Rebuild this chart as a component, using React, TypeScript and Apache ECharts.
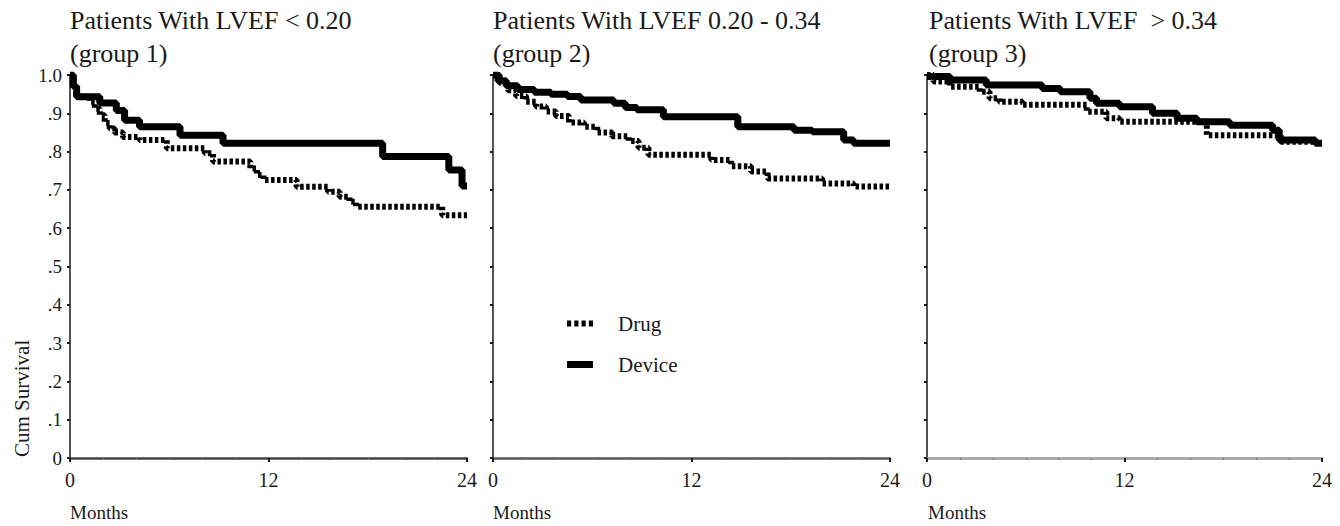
import React, { useEffect, useRef } from "react";
import * as echarts from "echarts";

// ---- data (months, cumulative survival) ----
const monthTicks = [0, 12, 24];
const yTickLabels = ["0", ".1", ".2", ".3", ".4", ".5", ".6", ".7", ".8", ".9", "1.0"];
const seriesNames = ["Drug", "Device"];

const titlesLine1 = ["Patients With LVEF < 0.20", "Patients With LVEF 0.20 - 0.34", "Patients With LVEF  > 0.34"];
const titlesLine2 = ["(group 1)", "(group 2)", "(group 3)"];

const g1Device = [
  [0, 1.0], [0.2, 0.97], [0.4, 0.943], [1.8, 0.927], [2.8, 0.907], [3.3, 0.882],
  [4.2, 0.865], [6.65, 0.843], [9.25, 0.822], [18.9, 0.787], [22.9, 0.752], [23.7, 0.71], [24, 0.71],
];
const g1Drug = [
  [0, 1.0], [0.2, 0.97], [0.4, 0.943], [1.2, 0.93], [1.5, 0.912], [1.8, 0.895], [2.1, 0.875],
  [2.4, 0.86], [2.7, 0.85], [3.2, 0.838], [4.2, 0.83], [5.85, 0.809], [8.15, 0.796], [8.65, 0.774],
  [10.9, 0.756], [11.3, 0.739], [11.7, 0.726], [13.7, 0.708], [15.6, 0.695], [16.3, 0.682],
  [16.9, 0.669], [17.3, 0.656], [22.5, 0.634], [24, 0.634],
];
const g2Device = [
  [0, 1.0], [0.3, 0.985], [0.8, 0.972], [1.5, 0.962], [2.5, 0.955], [3.5, 0.95], [4.5, 0.944],
  [5.3, 0.935], [7.3, 0.926], [8.0, 0.915], [8.7, 0.909], [10.3, 0.891], [14.8, 0.865],
  [18.2, 0.856], [19.3, 0.852], [21.2, 0.83], [21.8, 0.822], [24, 0.822],
];
const g2Drug = [
  [0, 1.0], [0.4, 0.98], [0.9, 0.96], [1.4, 0.945], [2.0, 0.93], [2.6, 0.918], [3.2, 0.905],
  [3.8, 0.893], [4.6, 0.876], [5.5, 0.865], [6.3, 0.85], [7.2, 0.84], [8.2, 0.828], [8.8, 0.81],
  [9.4, 0.792], [13.2, 0.778], [14.4, 0.762], [15.6, 0.748], [16.6, 0.73], [19.9, 0.717],
  [21.8, 0.709], [24, 0.709],
];
const g3Device = [
  [0, 0.996], [1.4, 0.987], [3.6, 0.974], [7.0, 0.965], [8.1, 0.956], [9.9, 0.939], [10.3, 0.926],
  [11.7, 0.917], [13.7, 0.9], [15.2, 0.887], [16.4, 0.878], [18.4, 0.869], [21.0, 0.856],
  [21.4, 0.83], [23.6, 0.822], [24, 0.822],
];
const g3Drug = [
  [0, 1.0], [0.4, 0.983], [1.4, 0.969], [3.2, 0.956], [3.8, 0.939], [4.4, 0.93], [5.8, 0.922],
  [9.7, 0.904], [10.9, 0.887], [11.7, 0.878], [17.0, 0.843], [21.5, 0.826], [23.6, 0.822], [24, 0.822],
];

const drugData = [g1Drug, g2Drug, g3Drug];
const deviceData = [g1Device, g2Device, g3Device];

const FONT = "'Liberation Serif', 'Times New Roman', serif";
const INK = "#1a1a1a";

export default function App() {
  const ref = useRef<HTMLDivElement>(null);

  useEffect(() => {
    if (!ref.current) return;
    const chart = echarts.init(ref.current, null, { renderer: "svg" });

    const gridLefts = [70, 493, 927];
    const gridWidths = [397, 397, 395];
    const xAxisColors = ["#444", "#555", "#aaa"];

    const grids = gridLefts.map((l, i) => ({ left: l, width: gridWidths[i], top: 75, height: 383 }));

    const xAxes = gridLefts.map((_, i) => ({
      type: "value",
      gridIndex: i,
      min: 0,
      max: 24,
      interval: 12,
      axisLine: { show: true, onZero: false, lineStyle: { color: xAxisColors[i], width: i === 2 ? 3 : 2.5 } },
      axisTick: { show: true, length: 4, lineStyle: { color: INK, width: 2 } },
      minorTick: { show: true, splitNumber: 6, length: 2, lineStyle: { color: "#777", width: 1 } },
      splitLine: { show: false },
      axisLabel: {
        show: true,
        margin: 12,
        fontSize: 20,
        fontFamily: FONT,
        color: INK,
        formatter: (v: number) => (monthTicks.includes(v) ? String(v) : ""),
      },
    }));

    const yAxes = gridLefts.map((_, i) => ({
      type: "value",
      gridIndex: i,
      min: 0,
      max: 1,
      interval: 0.1,
      axisLine: { show: true, lineStyle: { color: INK, width: 1.5 } },
      axisTick: { show: true, length: 3, lineStyle: { color: INK, width: 2 } },
      splitLine: { show: false },
      axisLabel: {
        show: i === 0,
        margin: 8,
        fontSize: 19,
        fontFamily: FONT,
        color: INK,
        formatter: (v: number) => yTickLabels[Math.round(v * 10)],
      },
    }));

    const series: any[] = [];
    for (let i = 0; i < 3; i++) {
      series.push({
        name: seriesNames[0],
        type: "line",
        xAxisIndex: i,
        yAxisIndex: i,
        step: "end",
        symbol: "none",
        showSymbol: false,
        data: drugData[i],
        lineStyle: { color: "#000", width: 6, type: [3.5, 2.5], cap: "butt" },
        itemStyle: { color: "#000" },
        z: 3,
      });
      series.push({
        name: seriesNames[1],
        type: "line",
        xAxisIndex: i,
        yAxisIndex: i,
        step: "end",
        symbol: "none",
        showSymbol: false,
        data: deviceData[i],
        lineStyle: { color: "#000", width: 7, cap: "butt" },
        itemStyle: { color: "#000" },
        z: 2,
      });
    }

    const titleX = [70, 493, 929];
    const monthsX = [70, 493, 928];
    const graphics: any[] = [];
    titleX.forEach((x, i) => {
      graphics.push({
        type: "text",
        x,
        y: 20,
        style: { text: titlesLine1[i], font: `26px ${FONT}`, fill: INK, textAlign: "left", textVerticalAlign: "middle" },
      });
      graphics.push({
        type: "text",
        x,
        y: 53,
        style: { text: titlesLine2[i], font: `26px ${FONT}`, fill: INK, textAlign: "left", textVerticalAlign: "middle" },
      });
    });
    monthsX.forEach((x) => {
      graphics.push({
        type: "text",
        x,
        y: 512,
        style: { text: "Months", font: `19px ${FONT}`, fill: INK, textAlign: "left", textVerticalAlign: "middle" },
      });
    });
    graphics.push({
      type: "text",
      x: 22,
      y: 457,
      rotation: Math.PI / 2,
      style: { text: "Cum Survival", font: `21px ${FONT}`, fill: INK, textAlign: "left", textVerticalAlign: "middle" },
    });

    chart.setOption({
      animation: false,
      backgroundColor: "#fff",
      grid: grids,
      xAxis: xAxes,
      yAxis: yAxes,
      series,
      legend: {
        data: [
          { name: seriesNames[0], icon: "path://M0,0h4v6h-4z M7,0h4v6h-4z M14,0h4v6h-4z M21,0h4v6h-4z" },
          { name: seriesNames[1], icon: "rect" },
        ],
        orient: "vertical",
        left: 562,
        top: 308,
        itemGap: 20,
        itemWidth: 26,
        itemHeight: 7,
        textStyle: { fontSize: 21, fontFamily: FONT, color: INK, padding: [0, 0, 0, 20] },
      },
      graphic: graphics,
    });

    return () => chart.dispose();
  }, []);

  return (
    <div
      ref={ref}
      style={{ position: "fixed", left: 0, top: 0, width: 1340, height: 526, background: "#fff" }}
    />
  );
}
